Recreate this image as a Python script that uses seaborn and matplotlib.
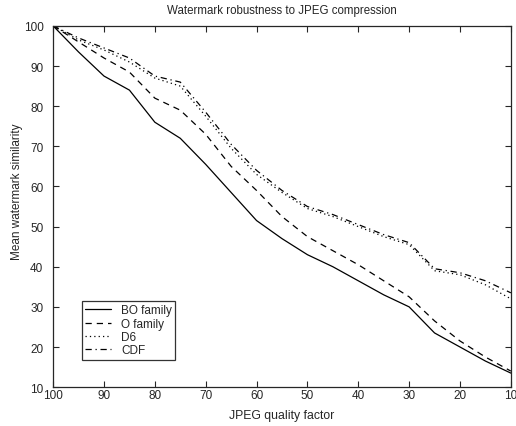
import pandas as pd
import matplotlib
matplotlib.use("Agg")
import matplotlib.pyplot as plt
import seaborn as sns

sns.set_style("ticks")
plt.rcParams['font.family'] = ['Liberation Sans', 'DejaVu Sans']
plt.rcParams['xtick.direction'] = 'in'
plt.rcParams['ytick.direction'] = 'in'

quality = [100, 95, 90, 85, 80, 75, 70, 65, 60, 55, 50, 45, 40, 35, 30, 25, 20, 15, 10]
bo_family = [100, 93.5, 87.5, 84, 76, 72, 65.5, 58.5, 51.5, 47, 43, 40, 36.5, 33, 30, 23.5, 20, 16.5, 13.5]
o_family = [100, 96, 92, 88.5, 82, 79, 73, 65, 59, 52.5, 47.5, 44, 40.5, 36.5, 32.5, 26.5, 21.5, 17.5, 14]
d6 = [100, 96.5, 94, 91, 87, 85, 77.5, 69.5, 63, 58.5, 54.5, 52.5, 50, 47.5, 45.5, 39, 38, 35.5, 32]
cdf = [100, 97, 94.5, 92, 87.5, 86, 78.5, 70.5, 64, 59, 55, 53, 50.5, 48, 46, 39.5, 38.5, 36.5, 33.5]

names = ["BO family", "O family", "D6", "CDF"]
series = [bo_family, o_family, d6, cdf]

rows = []
for name, vals in zip(names, series):
    for q, v in zip(quality, vals):
        rows.append({"quality": q, "similarity": v, "filter": name})
df = pd.DataFrame(rows)

fig = plt.figure(figsize=(5.16, 4.27), dpi=100)
ax = fig.add_axes([0.103, 0.091, 0.887, 0.846])

dashes = {"BO family": "", "O family": (5, 4), "D6": (1, 2.5), "CDF": (5, 3, 1, 3)}
sns.lineplot(data=df, x="quality", y="similarity", style="filter", dashes=dashes,
             color="black", linewidth=0.9, ax=ax, sort=False)

ax.set_xlim(100, 10)
ax.set_ylim(10, 100)
ax.set_xticks(range(100, 9, -10))
ax.set_yticks(range(10, 101, 10))
ax.tick_params(labelsize=8.5, top=True, right=True, length=4, width=0.8)
ax.tick_params(axis="x", pad=1)
ax.tick_params(axis="y", pad=7)
for s in ax.spines.values():
    s.set_linewidth(0.9)

ax.set_title("Watermark robustness to JPEG compression", fontsize=8.3, pad=9)
ax.set_xlabel("JPEG quality factor", fontsize=8.8, labelpad=6)
ax.set_ylabel("Mean watermark similarity", fontsize=8.5)
ax.yaxis.set_label_coords(-0.066, 0.543)

leg = ax.legend(loc="lower left", bbox_to_anchor=(0.05, 0.06), fontsize=8.5,
                frameon=True, fancybox=False, edgecolor="black", handlelength=2.2,
                borderpad=0.3, labelspacing=0.1)
leg.get_frame().set_linewidth(0.9)

fig.savefig("out.png", dpi=100)
